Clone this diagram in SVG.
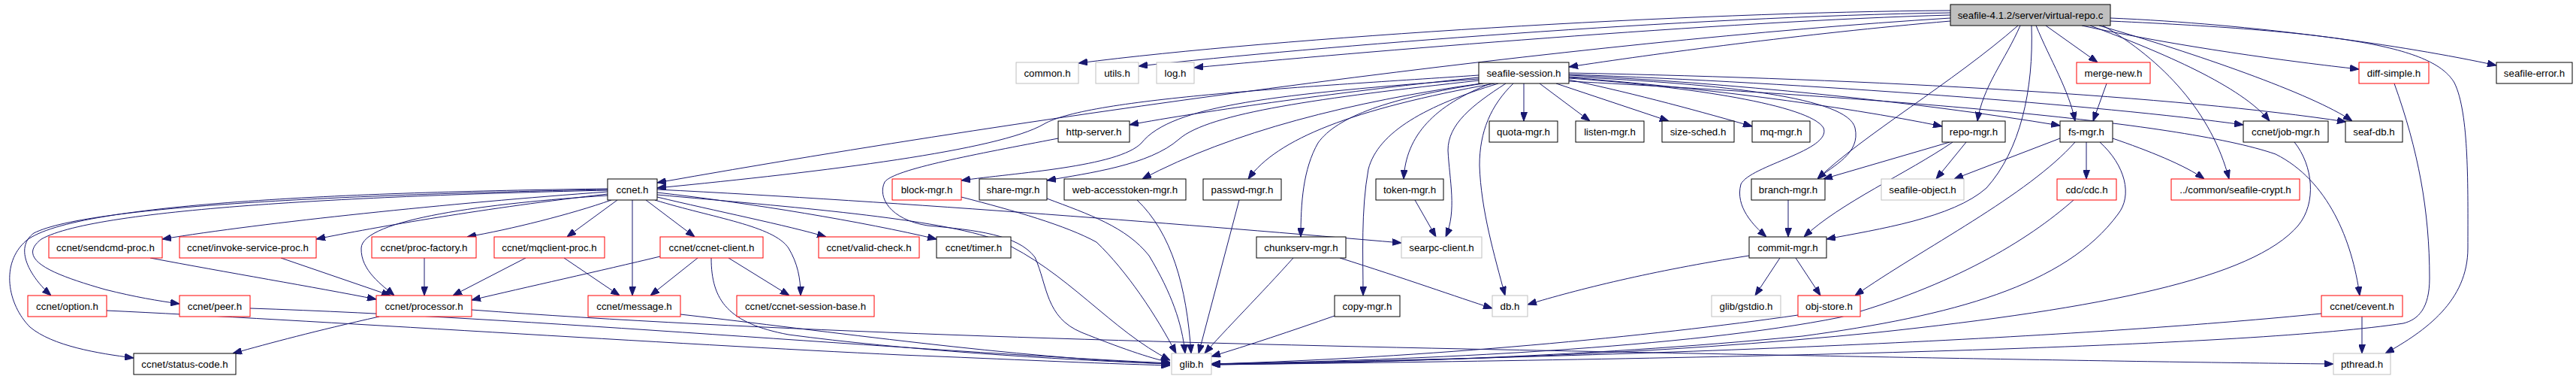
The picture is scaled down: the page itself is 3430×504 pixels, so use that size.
<svg xmlns="http://www.w3.org/2000/svg" width="3430" height="504" viewBox="0 0 3430 504">
<defs>
<marker id="ah" viewBox="0 0 12 9" refX="12" refY="4.5" markerWidth="12" markerHeight="9" markerUnits="userSpaceOnUse" orient="auto"><path d="M0,0 L12,4.5 L0,9 z" fill="#191970" stroke="#191970"/></marker>
<style>
.e{fill:none;stroke:#191970;stroke-width:1;marker-end:url(#ah)}
.n rect{fill:#fff;stroke:#000;stroke-width:1}
.r rect{stroke:#ff0000}
.g rect{stroke:#bfbfbf}
.root rect{fill:#bfbfbf;stroke:#000}
text{font-family:"Liberation Sans",Arial,sans-serif;font-size:13.3px;fill:#000;text-anchor:middle}
</style>
</defs>
<rect width="3430" height="504" fill="#fff"/>
<g id="edges">
<path class="e" d="M2597,14 C2250,16 1700,50 1436,84"/>
<path class="e" d="M2597,17 C2250,22 1750,62 1516,88"/>
<path class="e" d="M2597,20 C2300,28 1800,70 1590,90"/>
<path class="e" d="M2597,28 C2400,45 2200,72 2089,89"/>
<path class="e" d="M2597,24 C2100,55 1400,150 875,243"/>
<path class="e" d="M2690,34 C2670,80 2640,115 2633,161"/>
<path class="e" d="M2711,34 C2730,80 2755,120 2763,161"/>
<path class="e" d="M2687,34 C2600,110 2480,180 2420,238"/>
<path class="e" d="M2705,34 C2708,120 2690,200 2645,250 C2600,290 2500,305 2432,318"/>
<path class="e" d="M2724,34 L2793,83"/>
<path class="e" d="M2772,34 C2900,62 3050,82 3141,92"/>
<path class="e" d="M2810,24 C3000,32 3200,60 3324,87"/>
<path class="e" d="M2810,28 C3120,42 3240,62 3268,110 C3288,150 3286,250 3286,330 C3286,400 3230,440 3176,470"/>
<path class="e" d="M2783,34 C2880,70 2985,115 3022,161"/>
<path class="e" d="M2795,34 C2920,70 3080,125 3132,161"/>
<path class="e" d="M2800,34 C2880,80 2945,150 2968,238"/>
<path class="e" d="M1969,100 C1750,115 1450,130 1390,165 C1330,200 1100,228 875,250"/>
<path class="e" d="M1969,103 C1800,120 1600,148 1504,166"/>
<path class="e" d="M1969,105 C1700,125 1560,140 1520,190 C1490,222 1350,230 1280,240"/>
<path class="e" d="M1969,107 C1760,130 1610,150 1570,185 C1530,220 1450,230 1394,240"/>
<path class="e" d="M1972,111 C1800,135 1640,175 1521,238"/>
<path class="e" d="M1990,111 C1800,145 1700,185 1662,238"/>
<path class="e" d="M1975,111 C1850,130 1780,155 1755,190 C1735,225 1732,270 1732,315"/>
<path class="e" d="M1985,111 C1910,140 1872,180 1869,238"/>
<path class="e" d="M1995,111 C1900,140 1835,175 1822,225 C1812,280 1815,340 1815,393"/>
<path class="e" d="M2005,111 C1960,140 1928,165 1928,200 C1930,240 1940,280 1925,315"/>
<path class="e" d="M2015,111 C1985,140 1970,175 1970,220 C1972,280 1990,340 2004,393"/>
<path class="e" d="M2029,111 L2029,161"/>
<path class="e" d="M2050,111 L2117,161"/>
<path class="e" d="M2072,111 L2222,161"/>
<path class="e" d="M2089,106 C2180,125 2270,150 2333,168"/>
<path class="e" d="M2089,103 C2250,115 2450,140 2586,168"/>
<path class="e" d="M2089,100 C2300,110 2550,135 2743,167"/>
<path class="e" d="M2089,102 C2300,112 2460,130 2470,170 C2478,205 2440,220 2420,238"/>
<path class="e" d="M2089,104 C2250,115 2410,140 2428,170 C2440,200 2330,220 2318,245 C2310,275 2335,300 2352,315"/>
<path class="e" d="M2089,99 C2400,110 2800,140 2987,166"/>
<path class="e" d="M2089,97 C2500,105 2900,128 3124,162"/>
<path class="e" d="M2089,108 C2500,130 2900,160 3030,205 C3100,240 3132,320 3142,393"/>
<path class="e" d="M809,255 C600,270 350,296 216,318"/>
<path class="e" d="M809,258 C650,276 500,302 421,318"/>
<path class="e" d="M814,266 C760,285 680,305 622,315"/>
<path class="e" d="M822,266 L755,315"/>
<path class="e" d="M842,266 L842,393"/>
<path class="e" d="M860,266 L925,315"/>
<path class="e" d="M875,262 C950,280 1050,300 1100,315"/>
<path class="e" d="M872,266 C950,290 1030,300 1050,330 C1062,350 1066,370 1066,393"/>
<path class="e" d="M875,256 C1000,270 1150,295 1247,318"/>
<path class="e" d="M875,252 C1200,268 1600,300 1866,323"/>
<path class="e" d="M875,259 C1050,275 1250,290 1330,320 C1420,360 1480,440 1558,479"/>
<path class="e" d="M809,260 C650,270 482,292 481,330 C480,360 510,380 525,393"/>
<path class="e" d="M809,252 C500,258 120,272 45,310 C18,330 40,368 68,393"/>
<path class="e" d="M809,253 C500,260 130,276 55,318 C20,345 70,365 140,385 C180,395 210,400 239,404"/>
<path class="e" d="M809,251 C500,255 100,268 35,320 C0,350 10,405 40,435 C70,460 130,470 178,476"/>
<path class="e" d="M200,343 C300,362 420,382 501,398"/>
<path class="e" d="M374,343 L520,393"/>
<path class="e" d="M565,343 L565,393"/>
<path class="e" d="M700,343 L603,393"/>
<path class="e" d="M751,343 L825,393"/>
<path class="e" d="M879,341 C800,360 700,382 628,399"/>
<path class="e" d="M929,343 L866,393"/>
<path class="e" d="M970,343 L1051,393"/>
<path class="e" d="M947,343 C947,400 970,430 1050,445 C1200,465 1400,478 1558,484"/>
<path class="e" d="M505,421 C420,440 360,456 310,470"/>
<path class="e" d="M628,412 C1000,440 1500,455 2000,465 C2500,475 2900,482 3107,484"/>
<path class="e" d="M333,410 C700,422 1200,466 1558,483"/>
<path class="e" d="M142,413 C400,425 900,458 1200,472 C1350,478 1450,483 1558,486"/>
<path class="e" d="M906,418 C1100,440 1350,476 1558,484"/>
<path class="e" d="M1409,184 C1300,205 1190,225 1178,242 C1168,262 1185,292 1235,300 C1300,306 1355,312 1378,342 C1395,380 1392,422 1440,442 C1490,462 1530,476 1558,482"/>
<path class="e" d="M1280,262 C1350,280 1420,300 1460,322 C1500,360 1540,420 1566,470"/>
<path class="e" d="M1394,264 C1450,285 1500,302 1530,340 C1560,390 1574,430 1578,470"/>
<path class="e" d="M1514,266 C1560,310 1580,380 1586,470"/>
<path class="e" d="M1650,266 L1596,470"/>
<path class="e" d="M1722,343 C1680,390 1630,440 1604,470"/>
<path class="e" d="M1784,343 C1870,370 1940,395 1987,410"/>
<path class="e" d="M1884,266 L1912,315"/>
<path class="e" d="M1777,420 C1720,440 1660,460 1613,474"/>
<path class="e" d="M2329,340 C2200,360 2100,385 2034,405"/>
<path class="e" d="M2370,343 L2337,393"/>
<path class="e" d="M2391,343 L2424,393"/>
<path class="e" d="M2394,419 C2200,447 1900,476 1613,484"/>
<path class="e" d="M2381,266 L2381,315"/>
<path class="e" d="M2596,189 L2428,238"/>
<path class="e" d="M2618,189 L2578,238"/>
<path class="e" d="M2600,189 C2540,230 2450,270 2402,315"/>
<path class="e" d="M2743,184 L2602,238"/>
<path class="e" d="M2778,189 L2778,238"/>
<path class="e" d="M2763,189 C2700,260 2560,330 2470,393"/>
<path class="e" d="M2813,184 C2860,200 2910,220 2935,238"/>
<path class="e" d="M2796,189 C2830,220 2840,260 2820,285 C2750,380 2600,420 2400,447 C2100,476 1800,483 1613,485"/>
<path class="e" d="M2805,111 L2787,161"/>
<path class="e" d="M3188,111 C3220,200 3235,280 3235,370 C3235,410 3220,425 3200,430 C3000,460 2400,476 1613,485"/>
<path class="e" d="M3055,189 C3080,220 3085,270 3060,300 C3000,370 2800,410 2500,442 C2200,472 1900,481 1613,484"/>
<path class="e" d="M3091,417 C2800,446 2300,472 1613,484"/>
<path class="e" d="M3145,421 L3145,470"/>
<path class="e" d="M2761,266 C2700,320 2600,380 2450,422 C2250,462 1900,479 1613,484"/>
</g>
<g id="n_root" class="n root"><rect x="2597" y="6" width="213" height="28"/><text x="2703.5" y="25">seafile-4.1.2/server/virtual-repo.c</text></g>
<g id="n_common" class="n g"><rect x="1353" y="83" width="83" height="28"/><text x="1394.5" y="102">common.h</text></g>
<g id="n_utils" class="n g"><rect x="1459" y="83" width="57" height="28"/><text x="1487.5" y="102">utils.h</text></g>
<g id="n_log" class="n g"><rect x="1540" y="83" width="50" height="28"/><text x="1565" y="102">log.h</text></g>
<g id="n_session" class="n"><rect x="1969" y="83" width="120" height="28"/><text x="2029" y="102">seafile-session.h</text></g>
<g id="n_merge" class="n r"><rect x="2765" y="83" width="98" height="28"/><text x="2814" y="102">merge-new.h</text></g>
<g id="n_diff" class="n r"><rect x="3141" y="83" width="93" height="28"/><text x="3187.5" y="102">diff-simple.h</text></g>
<g id="n_error" class="n"><rect x="3324" y="83" width="101" height="28"/><text x="3374.5" y="102">seafile-error.h</text></g>
<g id="n_http" class="n"><rect x="1409" y="161" width="95" height="28"/><text x="1456.5" y="180">http-server.h</text></g>
<g id="n_quota" class="n"><rect x="1983" y="161" width="91" height="28"/><text x="2028.5" y="180">quota-mgr.h</text></g>
<g id="n_listen" class="n"><rect x="2098" y="161" width="91" height="28"/><text x="2143.5" y="180">listen-mgr.h</text></g>
<g id="n_sizesched" class="n"><rect x="2213" y="161" width="96" height="28"/><text x="2261" y="180">size-sched.h</text></g>
<g id="n_mq" class="n"><rect x="2333" y="161" width="77" height="28"/><text x="2371.5" y="180">mq-mgr.h</text></g>
<g id="n_repo" class="n"><rect x="2586" y="161" width="84" height="28"/><text x="2628" y="180">repo-mgr.h</text></g>
<g id="n_fs" class="n"><rect x="2743" y="161" width="70" height="28"/><text x="2778" y="180">fs-mgr.h</text></g>
<g id="n_jobmgr" class="n"><rect x="2987" y="161" width="113" height="28"/><text x="3043.5" y="180">ccnet/job-mgr.h</text></g>
<g id="n_seafdb" class="n"><rect x="3123" y="161" width="76" height="28"/><text x="3161" y="180">seaf-db.h</text></g>
<g id="n_ccnet" class="n"><rect x="809" y="238" width="66" height="28"/><text x="842" y="257">ccnet.h</text></g>
<g id="n_block" class="n r"><rect x="1188" y="238" width="92" height="28"/><text x="1234" y="257">block-mgr.h</text></g>
<g id="n_share" class="n"><rect x="1304" y="238" width="90" height="28"/><text x="1349" y="257">share-mgr.h</text></g>
<g id="n_web" class="n"><rect x="1417" y="238" width="162" height="28"/><text x="1498" y="257">web-accesstoken-mgr.h</text></g>
<g id="n_passwd" class="n"><rect x="1602" y="238" width="104" height="28"/><text x="1654" y="257">passwd-mgr.h</text></g>
<g id="n_token" class="n"><rect x="1832" y="238" width="90" height="28"/><text x="1877" y="257">token-mgr.h</text></g>
<g id="n_branch" class="n"><rect x="2332" y="238" width="98" height="28"/><text x="2381" y="257">branch-mgr.h</text></g>
<g id="n_sobj" class="n g"><rect x="2505" y="238" width="110" height="28"/><text x="2560" y="257">seafile-object.h</text></g>
<g id="n_cdc" class="n r"><rect x="2739" y="238" width="79" height="28"/><text x="2778.5" y="257">cdc/cdc.h</text></g>
<g id="n_crypt" class="n r"><rect x="2891" y="238" width="171" height="28"/><text x="2976.5" y="257">../common/seafile-crypt.h</text></g>
<g id="n_sendcmd" class="n r"><rect x="65" y="315" width="151" height="28"/><text x="140.5" y="334">ccnet/sendcmd-proc.h</text></g>
<g id="n_invoke" class="n r"><rect x="239" y="315" width="182" height="28"/><text x="330" y="334">ccnet/invoke-service-proc.h</text></g>
<g id="n_procfac" class="n r"><rect x="495" y="315" width="139" height="28"/><text x="564.5" y="334">ccnet/proc-factory.h</text></g>
<g id="n_mqclient" class="n r"><rect x="658" y="315" width="147" height="28"/><text x="731.5" y="334">ccnet/mqclient-proc.h</text></g>
<g id="n_cclient" class="n r"><rect x="879" y="315" width="137" height="28"/><text x="947.5" y="334">ccnet/ccnet-client.h</text></g>
<g id="n_valid" class="n r"><rect x="1090" y="315" width="134" height="28"/><text x="1157" y="334">ccnet/valid-check.h</text></g>
<g id="n_timer" class="n"><rect x="1247" y="315" width="99" height="28"/><text x="1296.5" y="334">ccnet/timer.h</text></g>
<g id="n_chunk" class="n"><rect x="1673" y="315" width="119" height="28"/><text x="1732.5" y="334">chunkserv-mgr.h</text></g>
<g id="n_searpc" class="n g"><rect x="1866" y="315" width="107" height="28"/><text x="1919.5" y="334">searpc-client.h</text></g>
<g id="n_commit" class="n"><rect x="2329" y="315" width="103" height="28"/><text x="2380.5" y="334">commit-mgr.h</text></g>
<g id="n_option" class="n r"><rect x="37" y="393" width="105" height="28"/><text x="89.5" y="412">ccnet/option.h</text></g>
<g id="n_peer" class="n r"><rect x="239" y="393" width="94" height="28"/><text x="286" y="412">ccnet/peer.h</text></g>
<g id="n_processor" class="n r"><rect x="501" y="393" width="127" height="28"/><text x="564.5" y="412">ccnet/processor.h</text></g>
<g id="n_message" class="n r"><rect x="783" y="393" width="123" height="28"/><text x="844.5" y="412">ccnet/message.h</text></g>
<g id="n_sbase" class="n r"><rect x="981" y="393" width="183" height="28"/><text x="1072.5" y="412">ccnet/ccnet-session-base.h</text></g>
<g id="n_copy" class="n"><rect x="1777" y="393" width="87" height="28"/><text x="1820.5" y="412">copy-mgr.h</text></g>
<g id="n_db" class="n g"><rect x="1987" y="393" width="47" height="28"/><text x="2010.5" y="412">db.h</text></g>
<g id="n_gstdio" class="n g"><rect x="2279" y="393" width="92" height="28"/><text x="2325" y="412">glib/gstdio.h</text></g>
<g id="n_objstore" class="n r"><rect x="2394" y="393" width="83" height="28"/><text x="2435.5" y="412">obj-store.h</text></g>
<g id="n_cevent" class="n r"><rect x="3091" y="393" width="108" height="28"/><text x="3145" y="412">ccnet/cevent.h</text></g>
<g id="n_status" class="n"><rect x="178" y="470" width="136" height="28"/><text x="246" y="489">ccnet/status-code.h</text></g>
<g id="n_glib" class="n g"><rect x="1560" y="470" width="53" height="28"/><text x="1586.5" y="489">glib.h</text></g>
<g id="n_pthread" class="n g"><rect x="3107" y="470" width="76" height="28"/><text x="3145" y="489">pthread.h</text></g>
</svg>
